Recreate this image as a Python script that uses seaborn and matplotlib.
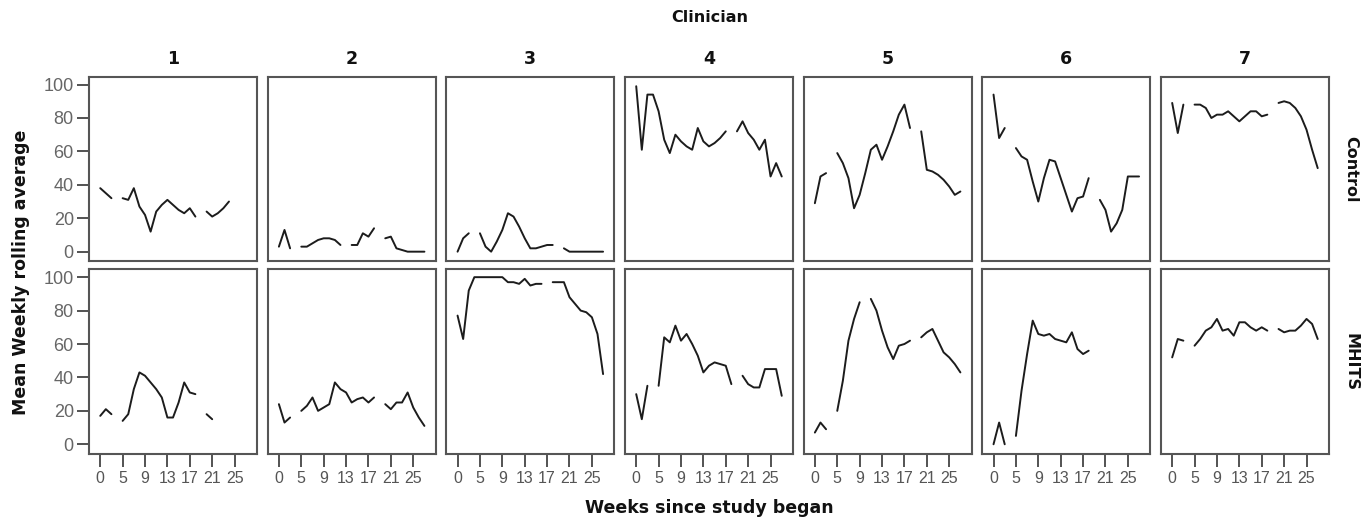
import numpy as np
import pandas as pd
import seaborn as sns
import matplotlib.pyplot as plt

nan = np.nan

# x categories (week 4 is not among them, so ticks every 4th read 0,5,9,...)
weeks = [0, 1, 2, 3, 5, 6, 7, 8, 9, 10, 11, 12, 13, 14, 15, 16, 17, 18,
         19, 20, 21, 22, 23, 24, 25, 26, 27, 28]
clinicians = [1, 2, 3, 4, 5, 6, 7]
groups = ["Control", "MHITS"]

control = {
    1: [38, 35, 32, nan, 32, 31, 38, 27, 22, 12, 24, 28, 31, 28, 25, 23, 26, 21, nan, 24, 21, 23, 26, 30, nan, nan, nan, nan],
    2: [3, 13, 2, nan, 3, 3, 5, 7, 8, 8, 7, 4, nan, 4, 4, 11, 9, 14, nan, 8, 9, 2, 1, 0, 0, 0, 0, nan],
    3: [0, 8, 11, nan, 11, 3, 0, 6, 13, 23, 21, 15, 8, 2, 2, 3, 4, 4, nan, 2, 0, 0, 0, 0, 0, 0, 0, nan],
    4: [99, 61, 94, 94, 84, 67, 59, 70, 66, 63, 61, 74, 66, 63, 65, 68, 72, nan, 72, 78, 71, 67, 61, 67, 45, 53, 45, nan],
    5: [29, 45, 47, nan, 59, 53, 44, 26, 34, 47, 61, 64, 55, 63, 72, 82, 88, 74, nan, 72, 49, 48, 46, 43, 39, 34, 36, nan],
    6: [94, 68, 74, nan, 62, 57, 55, 42, 30, 44, 55, 54, 44, 34, 24, 32, 33, 44, nan, 31, 25, 12, 17, 25, 45, 45, 45, nan],
    7: [89, 71, 88, nan, 88, 88, 86, 80, 82, 82, 84, 81, 78, 81, 84, 84, 81, 82, nan, 89, 90, 89, 86, 81, 73, 61, 50, nan],
}

mhits = {
    1: [17, 21, 18, nan, 14, 18, 33, 43, 41, 37, 33, 28, 16, 16, 25, 37, 31, 30, nan, 18, 15, nan, nan, nan, nan, nan, nan, nan],
    2: [24, 13, 16, nan, 20, 23, 28, 20, 22, 24, 37, 33, 31, 25, 27, 28, 25, 28, nan, 24, 21, 25, 25, 31, 22, 16, 11, nan],
    3: [77, 63, 92, 100, 100, 100, 100, 100, 100, 97, 97, 96, 99, 95, 96, 96, nan, 97, 97, 97, 88, 84, 80, 79, 76, 66, 42, nan],
    4: [30, 15, 35, nan, 35, 64, 61, 71, 62, 66, 60, 53, 43, 47, 49, 48, 47, 36, nan, 41, 36, 34, 34, 45, 45, 45, 29, nan],
    5: [7, 13, 9, nan, 20, 38, 62, 75, 85, nan, 87, 80, 68, 58, 51, 59, 60, 62, nan, 64, 67, 69, 62, 55, 52, 48, 43, nan],
    6: [0, 13, 0, nan, 5, 32, 54, 74, 66, 65, 66, 63, 62, 61, 67, 57, 54, 56, nan, nan, nan, nan, nan, nan, nan, nan, nan, nan],
    7: [52, 63, 62, nan, 59, 63, 68, 70, 75, 68, 69, 65, 73, 73, 70, 68, 70, 68, nan, 69, 67, 68, 68, 71, 75, 72, 63, nan],
}

# long table; a new segment id after every missing week keeps the gaps
rows = []
for group, table in zip(groups, [control, mhits]):
    for clin in clinicians:
        seg = 0
        for pos, v in enumerate(table[clin]):
            if np.isnan(v):
                seg += 1
                continue
            rows.append(dict(group=group, clinician=clin, pos=pos, value=v, seg=seg))
df = pd.DataFrame(rows)

sns.set_theme(style="white")
plt.rcParams["font.family"] = ["Liberation Sans", "DejaVu Sans"]
bold = dict(family="DejaVu Sans", fontweight="bold", color="#111111")

g = sns.relplot(data=df, x="pos", y="value", row="group", col="clinician",
                kind="line", units="seg", estimator=None, color="#1c1c1c",
                linewidth=1.4, height=2, aspect=0.9,
                facet_kws=dict(margin_titles=True, despine=False))
fig = g.figure
fig.set_size_inches(13.7, 5.23)
fig.subplots_adjust(left=0.065, right=0.970, top=0.853, bottom=0.132,
                    wspace=0.064, hspace=0.044)

g.set_titles(col_template="", row_template="")
g.set_axis_labels("", "")

tick_pos = list(range(0, len(weeks), 4))
for (i, j), ax in np.ndenumerate(g.axes):
    ax.set_xlim(-2, 28)
    ax.set_ylim(-5.8, 104.6)
    ax.set_yticks([0, 20, 40, 60, 80, 100])
    ax.set_xticks(tick_pos)
    ax.set_xticklabels([str(weeks[p]) for p in tick_pos])
    for s in ax.spines.values():
        s.set_color("#555555")
        s.set_linewidth(1.5)
    if j == 0:
        ax.tick_params(axis="y", left=True, length=9, width=1.3, color="#444444",
                       labelcolor="#666666", labelsize=13, pad=2)
    if i == g.axes.shape[0] - 1:
        ax.tick_params(axis="x", bottom=True, length=9, width=1.3, color="#444444",
                       labelcolor="#555555", labelsize=11.5, pad=3)
    if i == 0:
        ax.set_title(str(clinicians[j]), fontsize=12.5, pad=9, **bold)
    if j == g.axes.shape[1] - 1:
        ax.text(1.085, 0.5, groups[i], transform=ax.transAxes, rotation=270,
                ha="left", va="center", fontsize=11.5, **bold)

fig.text(0.518, 0.967, "Clinician", ha="center", va="center", fontsize=11.5, **bold)
fig.text(0.518, 0.029, "Weeks since study began", ha="center", va="center",
         fontsize=12.5, **bold)
fig.text(0.015, 0.48, "Mean Weekly rolling average", ha="center", va="center",
         rotation=90, fontsize=12.5, **bold)

fig.savefig("out.png", dpi=100)
